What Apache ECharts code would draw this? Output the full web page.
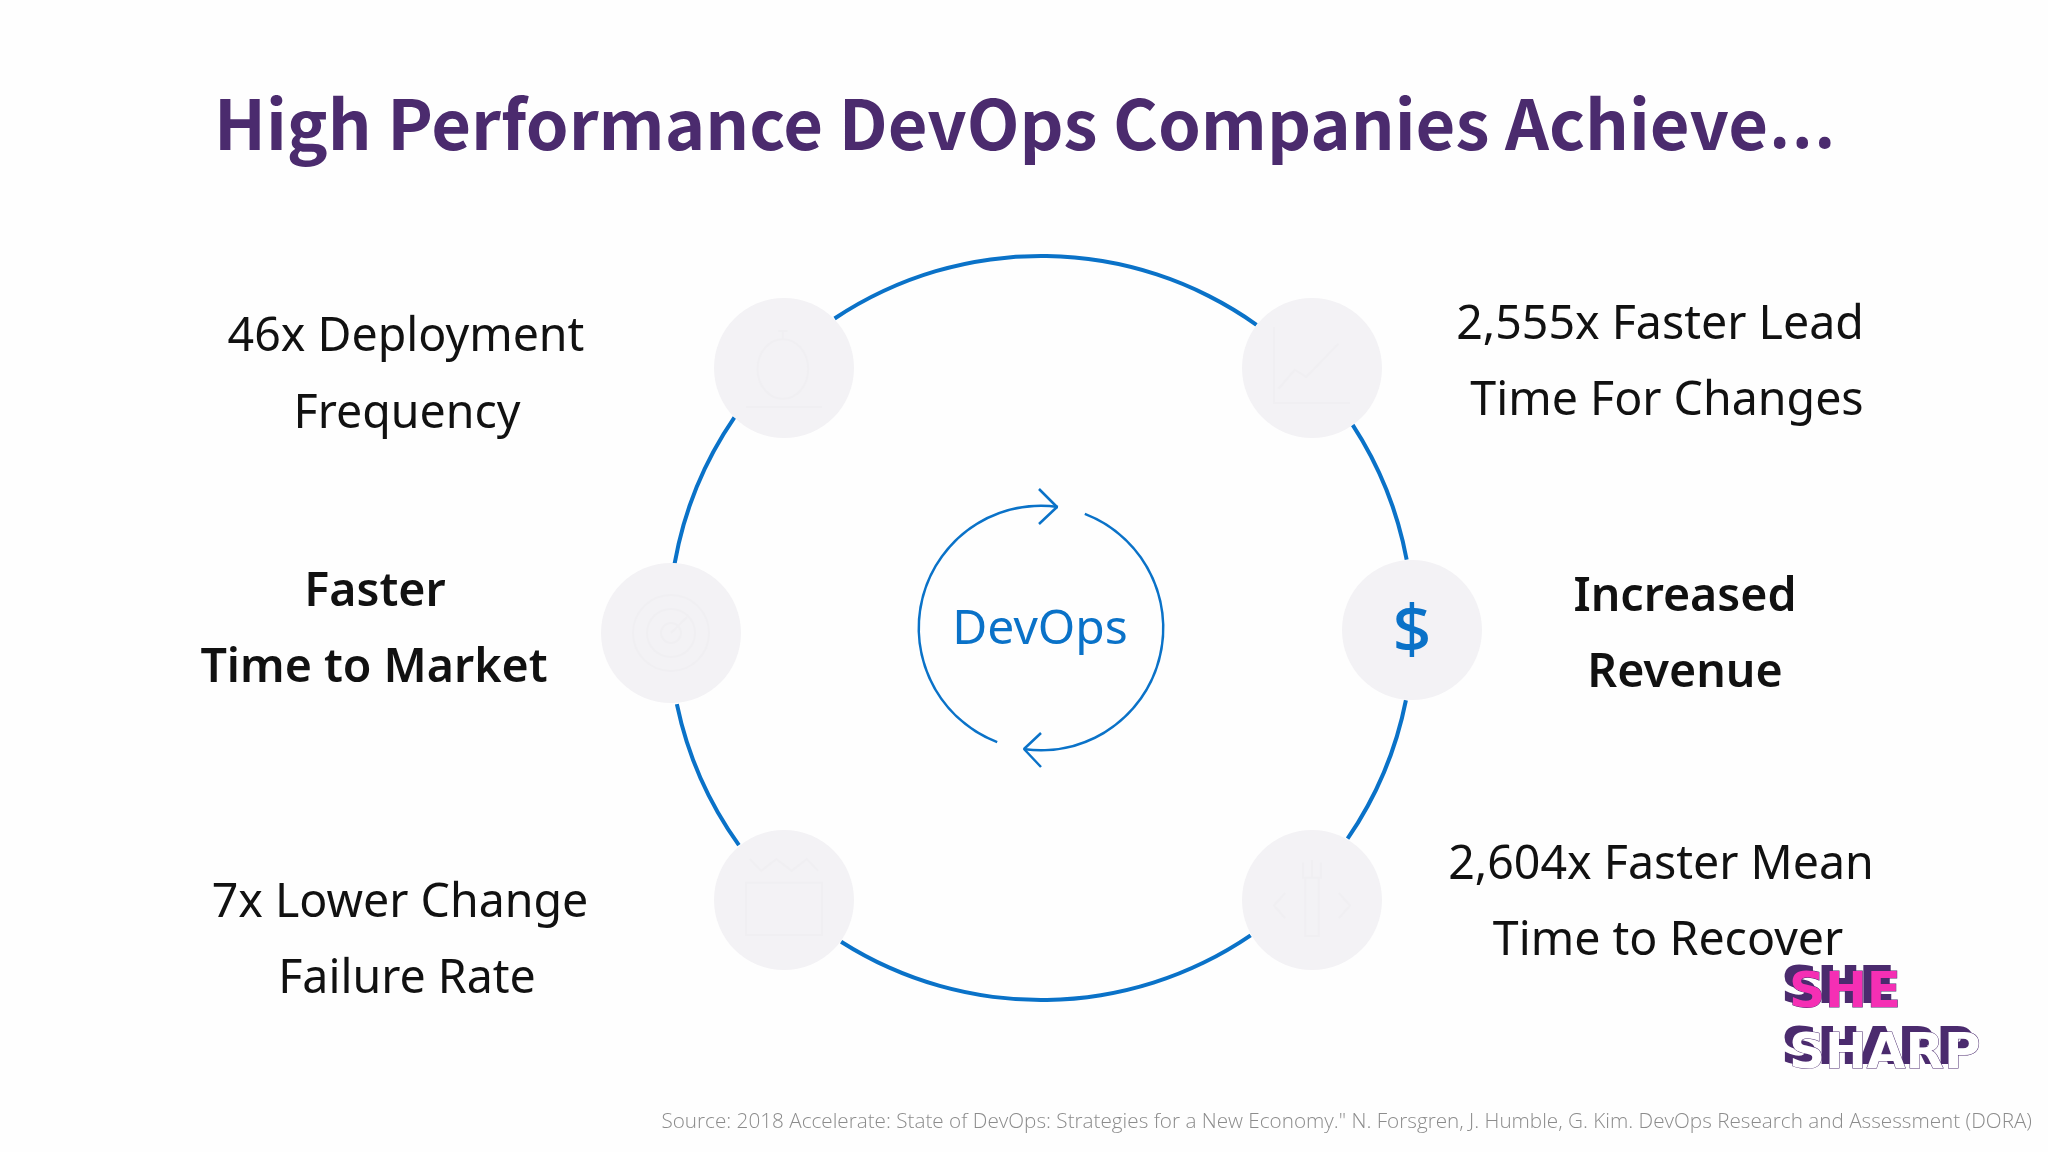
<!DOCTYPE html>
<html>
<head>
<meta charset="utf-8">
<title>High Performance DevOps Companies Achieve</title>
<script src="https://cdn.jsdelivr.net/npm/echarts@6/dist/echarts.min.js"></script>
<style>
html, body { margin: 0; padding: 0; background: #fefefe; }
#chart { width: 2048px; height: 1152px; }
</style>
</head>
<body>
<div id="chart"></div>
<script>
const BLUE = '#0a72c8';
const PURPLE = '#4b2b6e';
const NODE_GREY = '#f3f2f5';
const ICON_GREY = '#f0eff2';
const BODY_FONT = '"Noto Sans", "Open Sans", sans-serif';

// ring sections in degrees, clockwise, alternating arc and gap
const outerRingSpans = [69.1, 21.5, 22.5, 21.8, 23.3, 21.2, 66.8, 21.8, 23.9, 21.8, 24.5, 21.8];
const innerRingSpans = [13, 166.5, 13.5, 167];

// the five outer nodes plus the revenue one
const nodeX = [784, 1312, 671, 1412, 784, 1312];
const nodeY = [368, 368, 633, 630, 900, 900];

// regular captions
const plainLabels = ['46x Deployment', 'Frequency', '2,555x Faster Lead', 'Time For Changes',
    '7x Lower Change', 'Failure Rate', '2,604x Faster Mean', 'Time to Recover'];
const plainX = [406, 407, 1660, 1667, 400, 407, 1661, 1668];
const plainY = [338, 415, 326, 402, 904, 980, 866, 942];

// bold captions
const boldLabels = ['Faster', 'Time to Market', 'Increased', 'Revenue'];
const boldX = [375, 374, 1685, 1685];
const boldY = [593, 669, 598, 674];

// arrow heads on the inner ring
const arrowTopX = [1039, 1057, 1039];
const arrowTopY = [489, 507, 524];
const arrowBottomX = [1041, 1024, 1041];
const arrowBottomY = [733, 749, 767];

const iconPaths = [
    'path://M30 8h8M34 8v6M34 14a22 22 0 1 1-.01 0M2 64h66',
    'path://M4 2v64h66M8 54l14-16 10 6 28-28',
    'path://M40 2a38 38 0 1 1-.01 0M40 16a24 24 0 1 1-.01 0M40 30a10 10 0 1 1-.01 0M40 40l16-16',
    'path://M18 2l6 10 8-10 8 10 8-10 6 10M16 22h40v44H16z',
    'path://M36 2v14M28 4v12h16V4M30 16v46h12V16M12 28L2 38l10 10M60 28l10 10-10 10'
];
const iconX = [784, 1312, 671, 784, 1312];
const iconY = [369, 365, 633, 897, 898];

function ringSeries(spans, inner, outer, startAngle, arcIndex) {
    return {
        type: 'pie',
        silent: true,
        center: [1041, 628],
        radius: [inner, outer],
        startAngle: startAngle,
        clockwise: true,
        label: { show: false },
        labelLine: { show: false },
        z: 1,
        data: spans.map((v, i) => ({
            value: v,
            itemStyle: { color: i % 2 === arcIndex ? BLUE : 'transparent' }
        }))
    };
}

function arrowSeries(xs, ys) {
    return {
        type: 'line',
        silent: true,
        symbol: 'none',
        lineStyle: { color: BLUE, width: 2.5 },
        data: xs.map((x, i) => [x, ys[i]]),
        z: 2
    };
}

function textSeries(names, xs, ys, labelStyle) {
    return {
        type: 'scatter',
        silent: true,
        symbolSize: 1,
        itemStyle: { color: 'transparent', opacity: 1 },
        label: {
            show: true,
            position: 'inside',
            align: 'center',
            verticalAlign: 'middle',
            fontFamily: BODY_FONT,
            formatter: p => p.name,
            ...labelStyle
        },
        data: names.map((n, i) => ({ name: n, value: [xs[i], ys[i]] })),
        z: 5
    };
}

function logoText(text, x, y, face) {
    const base = { font: '900 50px "DejaVu Sans"', textAlign: 'left', textVerticalAlign: 'top' };
    return [
        { type: 'text', x: x, y: y, scaleX: 1, scaleY: 1, z: 10,
          style: { ...base, text: text, fill: PURPLE, stroke: PURPLE, lineWidth: 2 } },
        { type: 'text', x: x + 7, y: y + 5, scaleX: 1, scaleY: 1, z: 11,
          style: { ...base, text: text, fill: face, stroke: PURPLE, lineWidth: 1 } }
    ];
}

const chart = echarts.init(document.getElementById('chart'), null, { renderer: 'canvas' });

chart.setOption({
    animation: false,
    backgroundColor: '#fefefe',
    title: [{
        left: 209,
        top: 77,
        text: '{a|High Performance DevOps Companies Achieve}{b|…}',
        textStyle: {
            rich: {
                a: { color: PURPLE, fontFamily: '"Noto Sans CJK SC"', fontWeight: 700, fontSize: 68.6 },
                b: { color: PURPLE, fontFamily: '"Noto Sans"', fontWeight: 500, fontSize: 84, verticalAlign: 'bottom' }
            }
        }
    }, {
        right: 11,
        top: 1107,
        text: 'Source: 2018 Accelerate: State of DevOps: Strategies for a New Economy." N. Forsgren, J. Humble, G. Kim. DevOps Research and Assessment (DORA)',
        textStyle: { color: '#8c8c8c', fontFamily: '"Open Sans"', fontWeight: 300, fontSize: 20.7 }
    }],
    grid: { left: 0, right: 0, top: 0, bottom: 0 },
    xAxis: { type: 'value', min: 0, max: 2048, show: false },
    yAxis: { type: 'value', min: 0, max: 1152, inverse: true, show: false },
    series: [
        ringSeries(outerRingSpans, 370, 374, 123.7, 0),
        ringSeries(innerRingSpans, 121, 123.5, 82, 1),
        arrowSeries(arrowTopX, arrowTopY),
        arrowSeries(arrowBottomX, arrowBottomY),
        {
            type: 'scatter',
            silent: true,
            symbolSize: 140,
            itemStyle: { color: NODE_GREY, opacity: 1 },
            data: nodeX.map((x, i) => [x, nodeY[i]]),
            z: 3
        },
        {
            type: 'scatter',
            silent: true,
            symbolSize: 76,
            itemStyle: { color: 'none', borderColor: ICON_GREY, borderWidth: 2, opacity: 1 },
            data: iconX.map((x, i) => ({ value: [x, iconY[i]], symbol: iconPaths[i] })),
            z: 4
        },
        textSeries(plainLabels, plainX, plainY, { color: '#111111', fontSize: 46.5 }),
        textSeries(boldLabels, boldX, boldY, { color: '#111111', fontSize: 46.5, fontWeight: 600 }),
        textSeries(['DevOps'], [1040], [630], { color: BLUE, fontSize: 48 }),
        textSeries(['$'], [1412], [634], { color: BLUE, fontSize: 68, fontWeight: 500 })
    ],
    graphic: [
        ...logoText('SHE', 1782, 964, '#f52fb4'),
        ...logoText('SHARP', 1782, 1025, '#ffffff')
    ]
});

window.addEventListener('resize', () => chart.resize());
</script>
</body>
</html>
